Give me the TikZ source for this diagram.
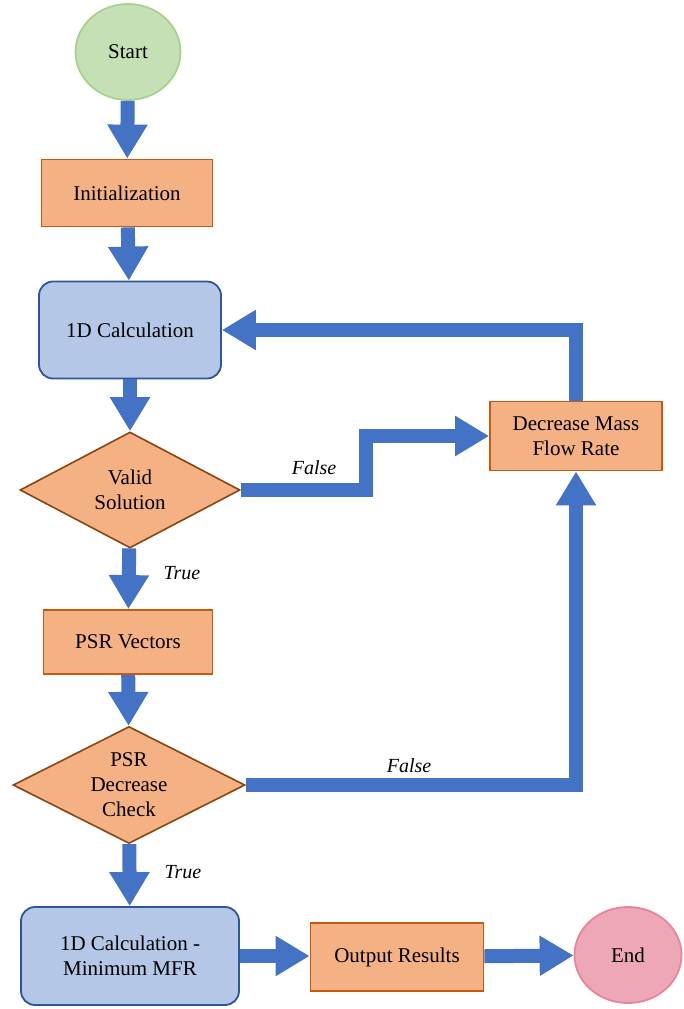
\documentclass[tikz,border=0pt]{standalone}
\usepackage{fontspec}
\setmainfont{LiberationSerif}[Extension=.ttf, UprightFont=*-Regular, ItalicFont=*-Italic, BoldFont=*-Bold, BoldItalicFont=*-BoldItalic]
\usetikzlibrary{shapes.geometric,arrows.meta}
\definecolor{flowblue}{HTML}{4472C4}
\definecolor{orangefill}{HTML}{F4B183}
\definecolor{orangeline}{HTML}{C55A11}
\definecolor{diamondline}{HTML}{8B4513}
\definecolor{bluefill}{HTML}{B4C7E7}
\definecolor{blueline}{HTML}{2F5597}
\definecolor{greenfill}{HTML}{C5E0B4}
\definecolor{greenline}{HTML}{A9D18E}
\definecolor{pinkfill}{HTML}{EEA7B7}
\definecolor{pinkline}{HTML}{E8849C}
\begin{document}
\begin{tikzpicture}[x=1pt,y=-1pt,
  every node/.style={font=\fontsize{21}{25}\selectfont, align=center, inner sep=0pt},
  procbox/.style={rectangle, draw=orangeline, fill=orangefill, line width=1.8pt},
  calcbox/.style={rectangle, rounded corners=14pt, draw=blueline, fill=bluefill, line width=1.8pt},
  decision/.style={diamond, aspect=2, draw=diamondline, fill=orangefill, line width=1.6pt},
  terminal/.style={ellipse, line width=1.8pt},
  flow/.style={draw=flowblue, line width=14pt, line join=miter, -{Triangle[length=34pt,width=38pt]}},
  lab/.style={font=\fontsize{20}{22}\selectfont\itshape}
]
\useasboundingbox (0,0) rectangle (684,1009);

\node[terminal, draw=greenline, fill=greenfill, minimum width=105pt, minimum height=96pt] (start) at (128,52) {Start};
\node[procbox, minimum width=171pt, minimum height=67pt] (init) at (127,193) {Initialization};
\node[calcbox, minimum width=182pt, minimum height=97pt] (calc) at (130,330) {1D Calculation};
\node[decision, minimum width=220pt, minimum height=116pt] (valid) at (130,490) {Valid\\Solution};
\node[procbox, minimum width=169pt, minimum height=64pt] (psr) at (128,642) {PSR Vectors};
\node[decision, minimum width=232pt, minimum height=117pt] (check) at (129,785) {PSR\\Decrease\\Check};
\node[calcbox, minimum width=218pt, minimum height=98pt] (minmfr) at (130,956) {1D Calculation -\\Minimum MFR};
\node[procbox, minimum width=173pt, minimum height=68pt] (out) at (397,957) {Output Results};
\node[terminal, draw=pinkline, fill=pinkfill, minimum width=107pt, minimum height=96pt] (end) at (628,955) {End};
\node[procbox, minimum width=172pt, minimum height=69pt] (dmfr) at (576,436) {Decrease Mass\\Flow Rate};

\draw[flow] (start) -- (init);
\draw[flow] (init) -- (calc);
\draw[flow] (calc) -- (valid);
\draw[flow] (valid) -- (psr);
\draw[flow] (psr) -- (check);
\draw[flow] (check) -- (minmfr);
\draw[flow] (minmfr.east) -- (out.west |- minmfr.east);
\draw[flow] (out) -- (end);
\draw[flow] (valid.east) -- (366,490) |- (dmfr.west);
\draw[flow] (check.east) -| (dmfr.south);
\draw[flow] (dmfr.north) |- (calc.east);

\node[lab] (t1) at (182,573) {True};
\node[lab] (t2) at (183,872) {True};
\node[lab] (f1) at (314,468) {False};
\node[lab] (f2) at (409,766) {False};
\end{tikzpicture}
\end{document}
